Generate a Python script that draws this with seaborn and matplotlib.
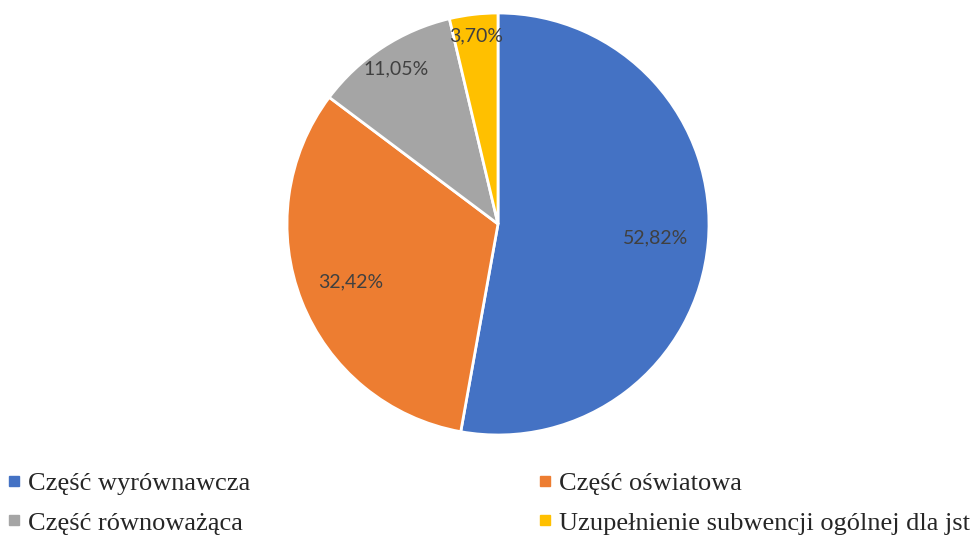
import matplotlib
matplotlib.use("Agg")
import matplotlib.pyplot as plt
import seaborn as sns
import numpy as np
from matplotlib.lines import Line2D

# dane: struktura subwencji ogólnej
kategorie = ['Część wyrównawcza', 'Część oświatowa', 'Część równoważąca',
             'Uzupełnienie subwencji ogólnej dla jst']
udzialy = [52.82, 32.42, 11.05, 3.70]
kolory = ['#4472C4', '#ED7D31', '#A5A5A5', '#FFC000']

sns.set_theme(style="white")

fig = plt.figure(figsize=(9.74, 5.4), dpi=100)
W, H = 974, 540
cx, cy, r = 498, 224, 211
ax = fig.add_axes([(cx - r) / W, (H - cy - r) / H, 2 * r / W, 2 * r / H])

wedges, texts, autotexts = ax.pie(
    udzialy, colors=kolory, startangle=90, counterclock=False,
    autopct='%1.1f', pctdistance=0.75,
    wedgeprops={'edgecolor': 'white', 'linewidth': 2},
    textprops={'fontsize': 14, 'color': '#404040', 'family': 'Lato'})
ax.set_xlim(-1, 1)
ax.set_ylim(-1, 1)
ax.set_aspect('equal')

# etykiety z danych (przecinek dziesiętny), małe wycinki dalej od środka
for w, t, v, d in zip(wedges, autotexts, udzialy, [0.75, 0.75, 0.88, 0.90]):
    t.set_text(f'{v:.2f}%'.replace('.', ','))
    ang = np.deg2rad((w.theta1 + w.theta2) / 2)
    t.set_position((d * np.cos(ang), d * np.sin(ang)))

# legenda - kolejność kolumnami
order = [0, 2, 1, 3]
handles = [Line2D([], [], marker='s', ls='', color=kolory[i], markersize=7) for i in order]
fig.legend(handles, [kategorie[i] for i in order], ncol=2, loc='upper left',
           bbox_to_anchor=(-0.009, 1 - 456 / H), frameon=False,
           prop={'family': 'Liberation Serif', 'size': 19},
           handlelength=0.5, handletextpad=0.3, columnspacing=10.9, labelspacing=0.6,
           borderaxespad=0.2)

fig.savefig('out.png', dpi=100)
